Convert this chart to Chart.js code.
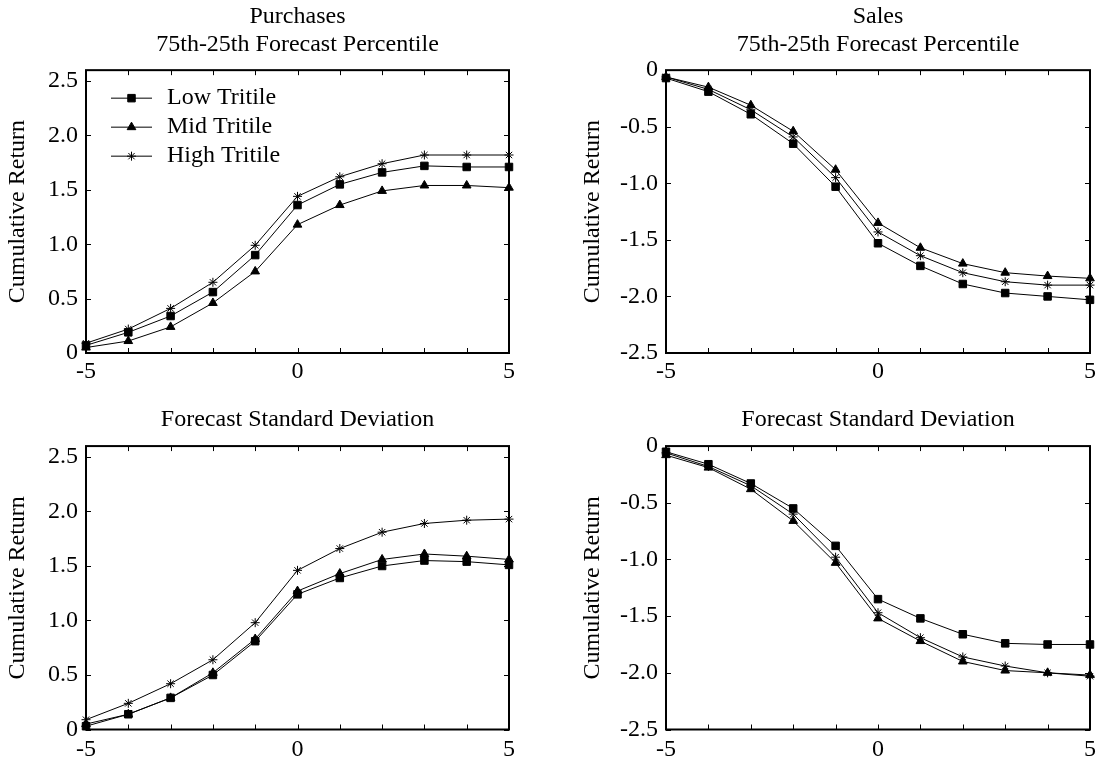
<!DOCTYPE html>
<html>
<head>
<meta charset="utf-8">
<script src="https://cdn.jsdelivr.net/npm/chart.js@4.4.1/dist/chart.umd.min.js"></script>
<style>
  body { margin: 0; background: #fff; }
  #wrap { position: relative; width: 1103px; height: 766px; }
  canvas { position: absolute; }
</style>
</head>
<body>
<div id="wrap">
  <canvas id="c1" width="551" height="383" style="left:0;top:0"></canvas>
  <canvas id="c2" width="552" height="383" style="left:551px;top:0"></canvas>
  <canvas id="c3" width="551" height="383" style="left:0;top:383px"></canvas>
  <canvas id="c4" width="552" height="383" style="left:551px;top:383px"></canvas>
</div>
<script>
const eventDays = [-5, -4, -3, -2, -1, 0, 1, 2, 3, 4, 5];
const seriesNames = ["Low Tritile", "Mid Tritile", "High Tritile"];

// purchases, 75th-25th forecast percentile
const buyPctLow = [0.07, 0.19, 0.34, 0.56, 0.90, 1.36, 1.55, 1.66, 1.72, 1.71, 1.71];
const buyPctMid = [0.05, 0.11, 0.24, 0.46, 0.75, 1.18, 1.36, 1.49, 1.54, 1.54, 1.52];
const buyPctHigh = [0.09, 0.22, 0.41, 0.65, 0.99, 1.44, 1.62, 1.74, 1.82, 1.82, 1.82];

// sales, 75th-25th forecast percentile
const sellPctLow = [-0.07, -0.19, -0.39, -0.65, -1.03, -1.53, -1.73, -1.89, -1.97, -2.00, -2.03];
const sellPctMid = [-0.06, -0.15, -0.31, -0.54, -0.88, -1.35, -1.57, -1.71, -1.79, -1.82, -1.84];
const sellPctHigh = [-0.06, -0.17, -0.35, -0.59, -0.95, -1.43, -1.64, -1.79, -1.87, -1.90, -1.90];

// purchases, forecast standard deviation
const buySdLow = [0.03, 0.14, 0.29, 0.50, 0.81, 1.24, 1.39, 1.50, 1.55, 1.54, 1.51];
const buySdMid = [0.05, 0.14, 0.29, 0.52, 0.83, 1.27, 1.43, 1.56, 1.61, 1.59, 1.56];
const buySdHigh = [0.09, 0.24, 0.42, 0.64, 0.98, 1.46, 1.66, 1.81, 1.89, 1.92, 1.93];

// sales, forecast standard deviation
const sellSdLow = [-0.05, -0.16, -0.33, -0.55, -0.88, -1.35, -1.52, -1.66, -1.74, -1.75, -1.75];
const sellSdMid = [-0.08, -0.19, -0.38, -0.66, -1.03, -1.52, -1.72, -1.90, -1.98, -2.00, -2.02];
const sellSdHigh = [-0.06, -0.18, -0.35, -0.60, -0.98, -1.47, -1.69, -1.86, -1.94, -2.00, -2.03];

const serif = '"Liberation Serif", "Times New Roman", serif';
Chart.defaults.font.family = serif;
Chart.defaults.font.size = 24;
Chart.defaults.color = "#000";

// box round the plot with inward tick marks on all four sides
const framePlugin = {
  id: "frame",
  beforeDatasetsDraw(chart) {
    const { ctx, chartArea: a, scales: { x, y } } = chart;
    ctx.save();
    ctx.strokeStyle = "#000";
    ctx.lineWidth = 1;
    ctx.beginPath();
    x.ticks.forEach((t) => {
      const px = Math.round(x.getPixelForValue(t.value)) + 0.5;
      ctx.moveTo(px, a.bottom); ctx.lineTo(px, a.bottom - 5);
      ctx.moveTo(px, a.top); ctx.lineTo(px, a.top + 5);
    });
    y.ticks.forEach((t) => {
      const py = Math.round(y.getPixelForValue(t.value)) + 0.5;
      ctx.moveTo(a.left, py); ctx.lineTo(a.left + 5, py);
      ctx.moveTo(a.right, py); ctx.lineTo(a.right - 5, py);
    });
    ctx.stroke();
    ctx.lineWidth = 2;
    ctx.strokeRect(a.left, a.top, a.width, a.height);
    ctx.restore();
  },
};

// legend drawn inside the plot, line + marker + text
const legendPlugin = {
  id: "insideLegend",
  afterDraw(chart, args, o) {
    if (!o.show) return;
    const { ctx, chartArea: a } = chart;
    chart.data.datasets.forEach((ds, i) => {
      const yy = a.top + 28 + i * 29;
      const x0 = a.left + 25;
      ctx.save();
      ctx.strokeStyle = "#000";
      ctx.fillStyle = "#000";
      ctx.lineWidth = 1;
      ctx.beginPath();
      ctx.moveTo(x0, yy);
      ctx.lineTo(x0 + 41, yy);
      ctx.stroke();
      Chart.helpers.drawPoint(ctx, { pointStyle: ds.pointStyle, radius: ds.pointRadius, borderWidth: 1, rotation: 0 }, x0 + 20.5, yy);
      ctx.font = "24px " + serif;
      ctx.textBaseline = "middle";
      ctx.textAlign = "left";
      ctx.fillText(ds.label, x0 + 56, yy);
      ctx.restore();
    });
  },
};

const markerStyles = ["rect", "triangle", "star"];
const markerSizes = [5.3, 5, 4.5];

function makePanel(id, series, p) {
  return new Chart(document.getElementById(id), {
    type: "line",
    data: {
      datasets: series.map((vals, i) => ({
        label: seriesNames[i],
        data: eventDays.map((d, j) => ({ x: d, y: vals[j] })),
        borderColor: "#000",
        borderWidth: 1,
        backgroundColor: "#000",
        pointStyle: markerStyles[i],
        pointRadius: markerSizes[i],
        pointBorderWidth: 1,
        pointBorderColor: "#000",
        pointBackgroundColor: "#000",
        tension: 0,
        clip: false,
      })),
    },
    options: {
      responsive: false,
      animation: false,
      layout: { padding: { left: p.padLeft, right: p.padRight, top: 0, bottom: 0 } },
      plugins: {
        legend: { display: false },
        tooltip: { enabled: false },
        title: {
          display: true,
          text: p.title,
          fullSize: false,
          color: "#000",
          font: { size: 24, weight: "normal", lineHeight: 1.17 },
          padding: { top: p.titleTop, bottom: p.titleBottom },
        },
        insideLegend: { show: !!p.legend },
      },
      scales: {
        x: {
          type: "linear",
          min: -5,
          max: 5,
          grid: { display: false, drawTicks: false },
          border: { display: false },
          ticks: {
            stepSize: 1,
            autoSkip: false,
            maxRotation: 0,
            padding: p.xPad,
            callback: (v) => (v % 5 === 0 ? String(v) : ""),
          },
          afterFit: (s) => { s.height = p.xHeight; },
        },
        y: {
          min: p.yMin,
          max: p.yMax,
          grid: { display: false, drawTicks: false },
          border: { display: false },
          ticks: {
            stepSize: 0.5,
            includeBounds: false,
            padding: 8,
            callback: (v) => (v === 0 ? "0" : v.toFixed(1)),
          },
          title: { display: true, text: "Cumulative Return", font: { size: 24 }, padding: 0 },
          afterFit: (s) => { s.width = p.yWidth; },
        },
      },
    },
    plugins: [framePlugin, legendPlugin],
  });
}

makePanel("c1", [buyPctLow, buyPctMid, buyPctHigh], {
  title: ["Purchases", "75th-25th Forecast Percentile"], legend: true,
  yMin: 0, yMax: 2.6, padLeft: 3.6, yWidth: 82.4, padRight: 42,
  titleTop: 3, titleBottom: 11, xHeight: 30, xPad: 4,
});
makePanel("c2", [sellPctLow, sellPctMid, sellPctHigh], {
  title: ["Sales", "75th-25th Forecast Percentile"],
  yMin: -2.5, yMax: 0, padLeft: 27.6, yWidth: 87.4, padRight: 13,
  titleTop: 3, titleBottom: 11, xHeight: 30, xPad: 4,
});
makePanel("c3", [buySdLow, buySdMid, buySdHigh], {
  title: "Forecast Standard Deviation",
  yMin: 0, yMax: 2.6, padLeft: 3.6, yWidth: 82.4, padRight: 42,
  titleTop: 22.7, titleBottom: 12.3, xHeight: 36.5, xPad: 6,
});
makePanel("c4", [sellSdLow, sellSdMid, sellSdHigh], {
  title: "Forecast Standard Deviation",
  yMin: -2.5, yMax: 0, padLeft: 27.6, yWidth: 87.4, padRight: 13,
  titleTop: 22.7, titleBottom: 12.3, xHeight: 36.5, xPad: 6,
});
</script>
</body>
</html>
